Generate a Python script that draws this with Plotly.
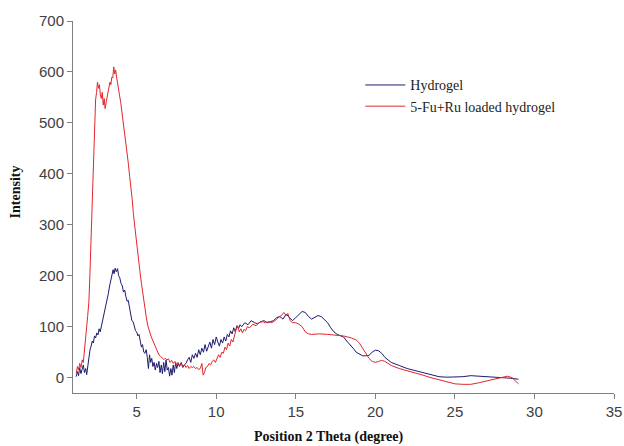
import plotly.graph_objects as go

# Hydrogel (blue)
hyd_x = [1.20, 1.28, 1.35, 1.42, 1.50, 1.58, 1.65, 1.72, 1.80, 1.86, 1.92, 2.00, 2.07, 2.14, 2.21, 2.28,
         2.35, 2.42, 2.50, 2.57, 2.64, 2.71, 2.78, 2.86, 2.93, 3.00, 3.07, 3.15, 3.22, 3.30, 3.37, 3.45,
         3.52, 3.58, 3.65, 3.72, 3.80, 3.87, 3.94, 4.02, 4.10, 4.17, 4.25, 4.32, 4.40, 4.47, 4.55, 4.62,
         4.70, 4.78, 4.85, 4.93, 5.00, 5.08, 5.15, 5.22, 5.30, 5.37, 5.45, 5.52, 5.60, 5.67, 5.74, 5.81,
         5.88, 5.95, 6.02, 6.10, 6.17, 6.25, 6.32, 6.40, 6.47, 6.55, 6.62, 6.70, 6.77, 6.85, 6.92, 7.00,
         7.07, 7.15, 7.22, 7.30, 7.37, 7.45, 7.52, 7.60, 7.70, 7.80, 7.90, 8.00, 8.10, 8.20, 8.30, 8.40,
         8.50, 8.60, 8.70, 8.80, 8.90, 9.00, 9.10, 9.20, 9.30, 9.40, 9.50, 9.60, 9.70, 9.80, 9.90, 10.00,
         10.10, 10.20, 10.30, 10.40, 10.50, 10.60, 10.70, 10.80, 10.90, 11.00, 11.10, 11.20, 11.30, 11.40,
         11.50, 11.60, 11.80, 12.00, 12.20, 12.40, 12.60, 12.80, 13.00, 13.20, 13.40, 13.60, 13.80, 14.00,
         14.20, 14.40, 14.60, 14.80, 15.00, 15.20, 15.40, 15.60, 15.80, 16.00, 16.20, 16.40, 16.60, 16.80,
         17.00, 17.20, 17.40, 17.60, 17.80, 18.00, 18.20, 18.40, 18.60, 18.80, 19.00, 19.20, 19.40, 19.60,
         19.80, 20.00, 20.20, 20.40, 20.60, 20.80, 21.00, 21.50, 22.00, 22.50, 23.00, 23.50, 24.00, 24.50,
         25.00, 25.50, 26.00, 26.50, 27.00, 27.50, 28.00, 28.50, 29.00]
hyd_y = [2, 12, 4, 20, 8, 15, 25, 10, 18, 6, 22, 40, 55, 62, 72, 68,
         82, 78, 88, 84, 96, 90, 100, 112, 122, 135, 140, 155, 165, 180, 192, 205,
         212, 204, 215, 208, 214, 200, 196, 185, 180, 168, 172, 160, 150, 152, 135, 120,
         112, 110, 100, 92, 90, 82, 85, 70, 60, 65, 50, 48, 55, 40, 18, 45,
         30, 38, 22, 30, 15, 28, 20, 32, 10, 25, 8, 30, 12, 35, 15, 20,
         3, 18, 5, 25, 10, 30, 18, 28, 22, 30, 20, 25, 28, 35, 40, 30,
         45, 38, 48, 40, 55, 45, 58, 50, 65, 52, 60, 70, 58, 75, 65, 80,
         70, 62, 75, 68, 80, 72, 85, 80, 92, 86, 98, 90, 102, 96,
         104, 100, 108, 104, 112, 108, 106, 110, 112, 108, 110, 112, 118, 120,
         115, 125, 118, 112, 118, 124, 130, 128, 120, 115, 118, 122, 120, 114,
         108, 98, 90, 85, 82, 80, 72, 66, 58, 50, 46, 43, 43, 44,
         50, 54, 53, 48, 40, 34, 30, 24, 18, 14, 10, 5, 2, 1,
         1, 2, 4, 3, 2, 1, 1, -1, -3]

# 5-Fu+Ru loaded hydrogel (red)
load_x = [1.20, 1.28, 1.35, 1.42, 1.50, 1.58, 1.65, 1.72, 1.80, 1.86, 1.92, 2.00, 2.06, 2.12, 2.18, 2.24,
          2.30, 2.36, 2.42, 2.48, 2.54, 2.60, 2.66, 2.72, 2.78, 2.84, 2.90, 2.96, 3.02, 3.08, 3.14, 3.20,
          3.26, 3.32, 3.38, 3.44, 3.50, 3.56, 3.62, 3.68, 3.74, 3.80, 3.86, 3.92, 4.00, 4.08, 4.16, 4.24,
          4.32, 4.40, 4.48, 4.56, 4.64, 4.72, 4.80, 4.90, 5.00, 5.10, 5.20, 5.30, 5.40, 5.50, 5.60, 5.70,
          5.80, 5.90, 6.00, 6.10, 6.20, 6.30, 6.40, 6.50, 6.60, 6.70, 6.80, 6.90, 7.00, 7.10, 7.20, 7.30,
          7.40, 7.50, 7.60, 7.70, 7.80, 7.90, 8.00, 8.10, 8.20, 8.30, 8.40, 8.50, 8.60, 8.70, 8.80, 8.90,
          9.00, 9.10, 9.18, 9.26, 9.35, 9.45, 9.55, 9.65, 9.75, 9.85, 9.95, 10.05, 10.15, 10.25, 10.35,
          10.45, 10.55, 10.65, 10.75, 10.85, 10.95, 11.05, 11.15, 11.25, 11.35, 11.45, 11.55, 11.65, 11.75,
          11.85, 11.95, 12.10, 12.30, 12.50, 12.70, 12.90, 13.10, 13.30, 13.50, 13.70, 13.90, 14.10, 14.25,
          14.40, 14.50, 14.65, 14.80, 15.00, 15.20, 15.40, 15.60, 15.80, 16.00, 16.50, 17.00, 17.50, 18.00,
          18.50, 18.80, 19.00, 19.20, 19.40, 19.60, 19.80, 20.00, 20.20, 20.40, 20.60, 20.80, 21.00, 21.50,
          22.00, 22.50, 23.00, 23.50, 24.00, 24.50, 25.00, 25.50, 26.00, 26.50, 27.00, 27.50, 28.00, 28.30,
          28.60, 28.80, 29.00]
load_y = [8, 22, 15, 28, 20, 35, 30, 50, 70, 100, 120, 150, 200, 260, 320, 390,
          450, 500, 545, 560, 580, 568, 575, 555, 548, 560, 535, 548, 528, 540, 552, 565,
          572, 580, 575, 590, 588, 610, 596, 604, 590, 575, 570, 555, 540, 520, 505, 490,
          470, 450, 420, 395, 375, 350, 320, 290, 262, 235, 210, 185, 160, 140, 120, 102,
          90, 82, 74, 66, 60, 50, 45, 42, 38, 36, 38, 35, 37, 30, 34, 28,
          32, 25, 30, 24, 28, 22, 26, 20, 24, 18, 22, 20, 22, 18, 20, 16,
          18, 28, 5, 10, 20, 22, 28, 25, 32, 35, 30, 38, 45, 40, 50,
          48, 60, 55, 68, 62, 75, 70, 85, 95, 102, 90, 96, 88, 95,
          92, 100, 98, 105, 102, 108, 110, 108, 110, 108, 112, 118, 122, 128,
          122, 126, 112, 108, 108, 105, 100, 90, 86, 85, 86, 85, 84, 82,
          78, 74, 68, 58, 48, 38, 32, 30, 32, 34, 32, 28, 24, 18,
          14, 10, 5, 0, -4, -9, -12, -13, -13, -10, -6, -2, 1, 3,
          0, -6, -12]

x_ticks = [5, 10, 15, 20, 25, 30, 35]
y_ticks = [0, 100, 200, 300, 400, 500, 600, 700]

fig = go.Figure()
fig.add_trace(go.Scatter(x=hyd_x, y=hyd_y, mode="lines", name="Hydrogel",
                         line=dict(color="#1c1c6e", width=1)))
fig.add_trace(go.Scatter(x=load_x, y=load_y, mode="lines", name="5-Fu+Ru loaded hydrogel",
                         line=dict(color="#e3262c", width=1)))

axis_common = dict(showline=True, linecolor="#808080", linewidth=1, showgrid=False, zeroline=False,
                   ticks="outside", ticklen=5, tickcolor="#808080", automargin=False,
                   tickfont=dict(family="Liberation Sans, Arial", size=15, color="#404040"))

fig.update_layout(
    width=624, height=446,
    margin=dict(l=73, r=10, t=21, b=53),
    paper_bgcolor="white", plot_bgcolor="white",
    showlegend=True,
    legend=dict(x=0.531, y=0.87, xanchor="left", yanchor="top",
                font=dict(family="Liberation Serif, Times New Roman", size=14, color="#222222"),
                bgcolor="rgba(0,0,0,0)", tracegroupgap=0, itemwidth=40),
    xaxis=dict(range=[1, 35], tickvals=x_ticks, **axis_common),
    yaxis=dict(range=[-30, 700], tickvals=y_ticks, **axis_common),
    annotations=[
        dict(text="<b>Position 2 Theta (degree)</b>", xref="paper", yref="paper",
             x=0.473, y=-0.118, xanchor="center", yanchor="middle", showarrow=False,
             font=dict(family="Liberation Serif, Times New Roman", size=14, color="#111111")),
        dict(text="<b>Intensity</b>", xref="paper", yref="paper",
             x=-0.106, y=0.541, xanchor="center", yanchor="middle", showarrow=False, textangle=-90,
             font=dict(family="Liberation Serif, Times New Roman", size=14, color="#111111")),
    ],
)

# remove the browser's default page margin so the 624x446 figure fills the window exactly
fig.write_html("out.html", config={"displayModeBar": False},
               post_script="document.body.style.margin='0';document.body.style.overflow='hidden';")
